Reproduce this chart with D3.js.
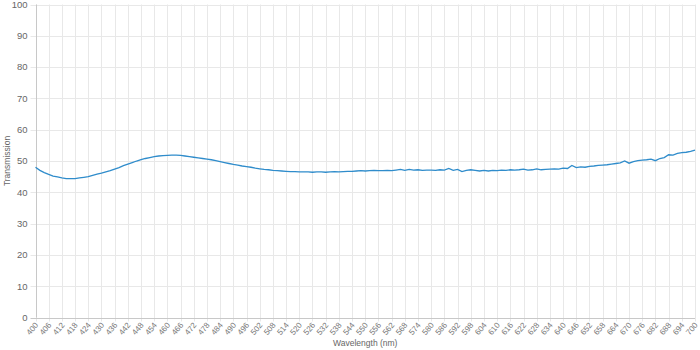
<!DOCTYPE html>
<html>
<head>
<meta charset="utf-8">
<script src="https://cdn.jsdelivr.net/npm/d3@7"></script>
<style>
  body { margin: 0; background: #fff; }
  text { font-family: "Helvetica Neue", Helvetica, Arial, "Liberation Sans", sans-serif; }
</style>
</head>
<body>
<div id="chart"></div>
<script>
// wavelength samples, every 2 nm
const wavelengths = d3.range(400, 701, 2);

const transmission = [
  48.0, 47.0, 46.3, 45.7, 45.2, 44.9, 44.6, 44.4, 44.4, 44.4,
  44.6, 44.8, 45.0, 45.4, 45.8, 46.1, 46.5, 46.9, 47.4, 47.9,
  48.5, 49.0, 49.5, 50.0, 50.4, 50.8, 51.1, 51.4, 51.6, 51.7,
  51.8, 51.9, 51.9, 51.8, 51.6, 51.4, 51.2, 51.0, 50.8, 50.6,
  50.4, 50.1, 49.8, 49.5, 49.2, 48.9, 48.7, 48.4, 48.2, 48.0,
  47.7, 47.5, 47.3, 47.2, 47.0, 46.9, 46.8, 46.7, 46.6, 46.6,
  46.5, 46.5, 46.5, 46.4, 46.5, 46.5, 46.4, 46.5, 46.6, 46.5,
  46.6, 46.7, 46.7, 46.8, 46.9, 46.8, 46.9, 47.0, 46.9, 46.9,
  47.0, 46.9, 47.1, 47.3, 47.0, 47.3, 47.1, 47.2, 47.0, 47.1,
  47.1, 47.0, 47.2, 47.1, 47.6, 47.0, 47.3, 46.6, 47.0, 47.2,
  47.0, 46.8, 47.0, 46.8, 47.0, 46.9, 47.1, 47.0, 47.2, 47.1,
  47.2, 47.4, 47.1, 47.2, 47.5, 47.2, 47.3, 47.4, 47.5, 47.4,
  47.7, 47.6, 48.6, 47.9, 48.1, 48.0, 48.3, 48.4, 48.6, 48.7,
  48.8, 49.0, 49.2, 49.4, 50.0, 49.3, 49.8, 50.1, 50.3, 50.4,
  50.6, 50.1, 50.8, 51.1, 52.0, 51.9, 52.4, 52.7, 52.8, 53.1,
  53.5
];

const xTicks = d3.range(400, 701, 6);
const yTicks = [0, 10, 20, 30, 40, 50, 60, 70, 80, 90, 100];

const width = 700;
const height = 350;
const margin = { top: 4.5, right: 5, bottom: 32.5, left: 35.5 };

const data = wavelengths.map((w, i) => ({ w: w, t: transmission[i] }));

const svg = d3.select('#chart')
  .append('svg')
  .attr('width', width)
  .attr('height', height);

const x = d3.scaleLinear()
  .domain([400, 700])
  .range([margin.left, width - margin.right]);

const y = d3.scaleLinear()
  .domain([0, 100])
  .range([height - margin.bottom, margin.top]);

// grid
svg.append('g')
  .selectAll('line')
  .data(xTicks)
  .enter()
  .append('line')
  .attr('x1', d => Math.round(x(d)) + 0.5)
  .attr('x2', d => Math.round(x(d)) + 0.5)
  .attr('y1', y(100))
  .attr('y2', y(0) + 4)
  .attr('stroke', '#e8e8e8');

svg.append('g')
  .selectAll('line')
  .data(yTicks)
  .enter()
  .append('line')
  .attr('x1', x(400) - 5)
  .attr('x2', x(700))
  .attr('y1', d => Math.round(y(d)) + 0.5)
  .attr('y2', d => Math.round(y(d)) + 0.5)
  .attr('stroke', d => d === 0 ? '#c8c8c8' : '#e8e8e8');

// left axis line
svg.append('line')
  .attr('x1', Math.round(x(400)) + 0.5)
  .attr('x2', Math.round(x(400)) + 0.5)
  .attr('y1', y(100))
  .attr('y2', y(0))
  .attr('stroke', '#c8c8c8');

// y tick labels
svg.append('g')
  .selectAll('text')
  .data(yTicks)
  .enter()
  .append('text')
  .attr('x', x(400) - 8)
  .attr('y', d => y(d))
  .attr('dy', '0.35em')
  .attr('text-anchor', 'end')
  .attr('font-size', '9.5px')
  .attr('fill', '#666')
  .text(d => d);

// x tick labels
svg.append('g')
  .selectAll('text')
  .data(xTicks)
  .enter()
  .append('text')
  .attr('transform', d => `translate(${x(d) + 1},${y(0) + 6}) rotate(-50)`)
  .attr('text-anchor', 'end')
  .attr('dy', '0.35em')
  .attr('font-size', '8px')
  .attr('fill', '#777')
  .text(d => d);

// axis titles
svg.append('text')
  .attr('x', (x(400) + x(700)) / 2)
  .attr('y', 346)
  .attr('text-anchor', 'middle')
  .attr('font-size', '8.5px')
  .attr('fill', '#666')
  .text('Wavelength (nm)');

svg.append('text')
  .attr('transform', `translate(10,${(y(0) + y(100)) / 2}) rotate(-90)`)
  .attr('text-anchor', 'middle')
  .attr('font-size', '8.5px')
  .attr('fill', '#666')
  .text('Transmission');

const line = d3.line()
  .x(d => x(d.w))
  .y(d => y(d.t));

svg.append('path')
  .datum(data)
  .attr('fill', 'none')
  .attr('stroke', '#2f8ccb')
  .attr('stroke-width', 1.3)
  .attr('d', line);
</script>
</body>
</html>
